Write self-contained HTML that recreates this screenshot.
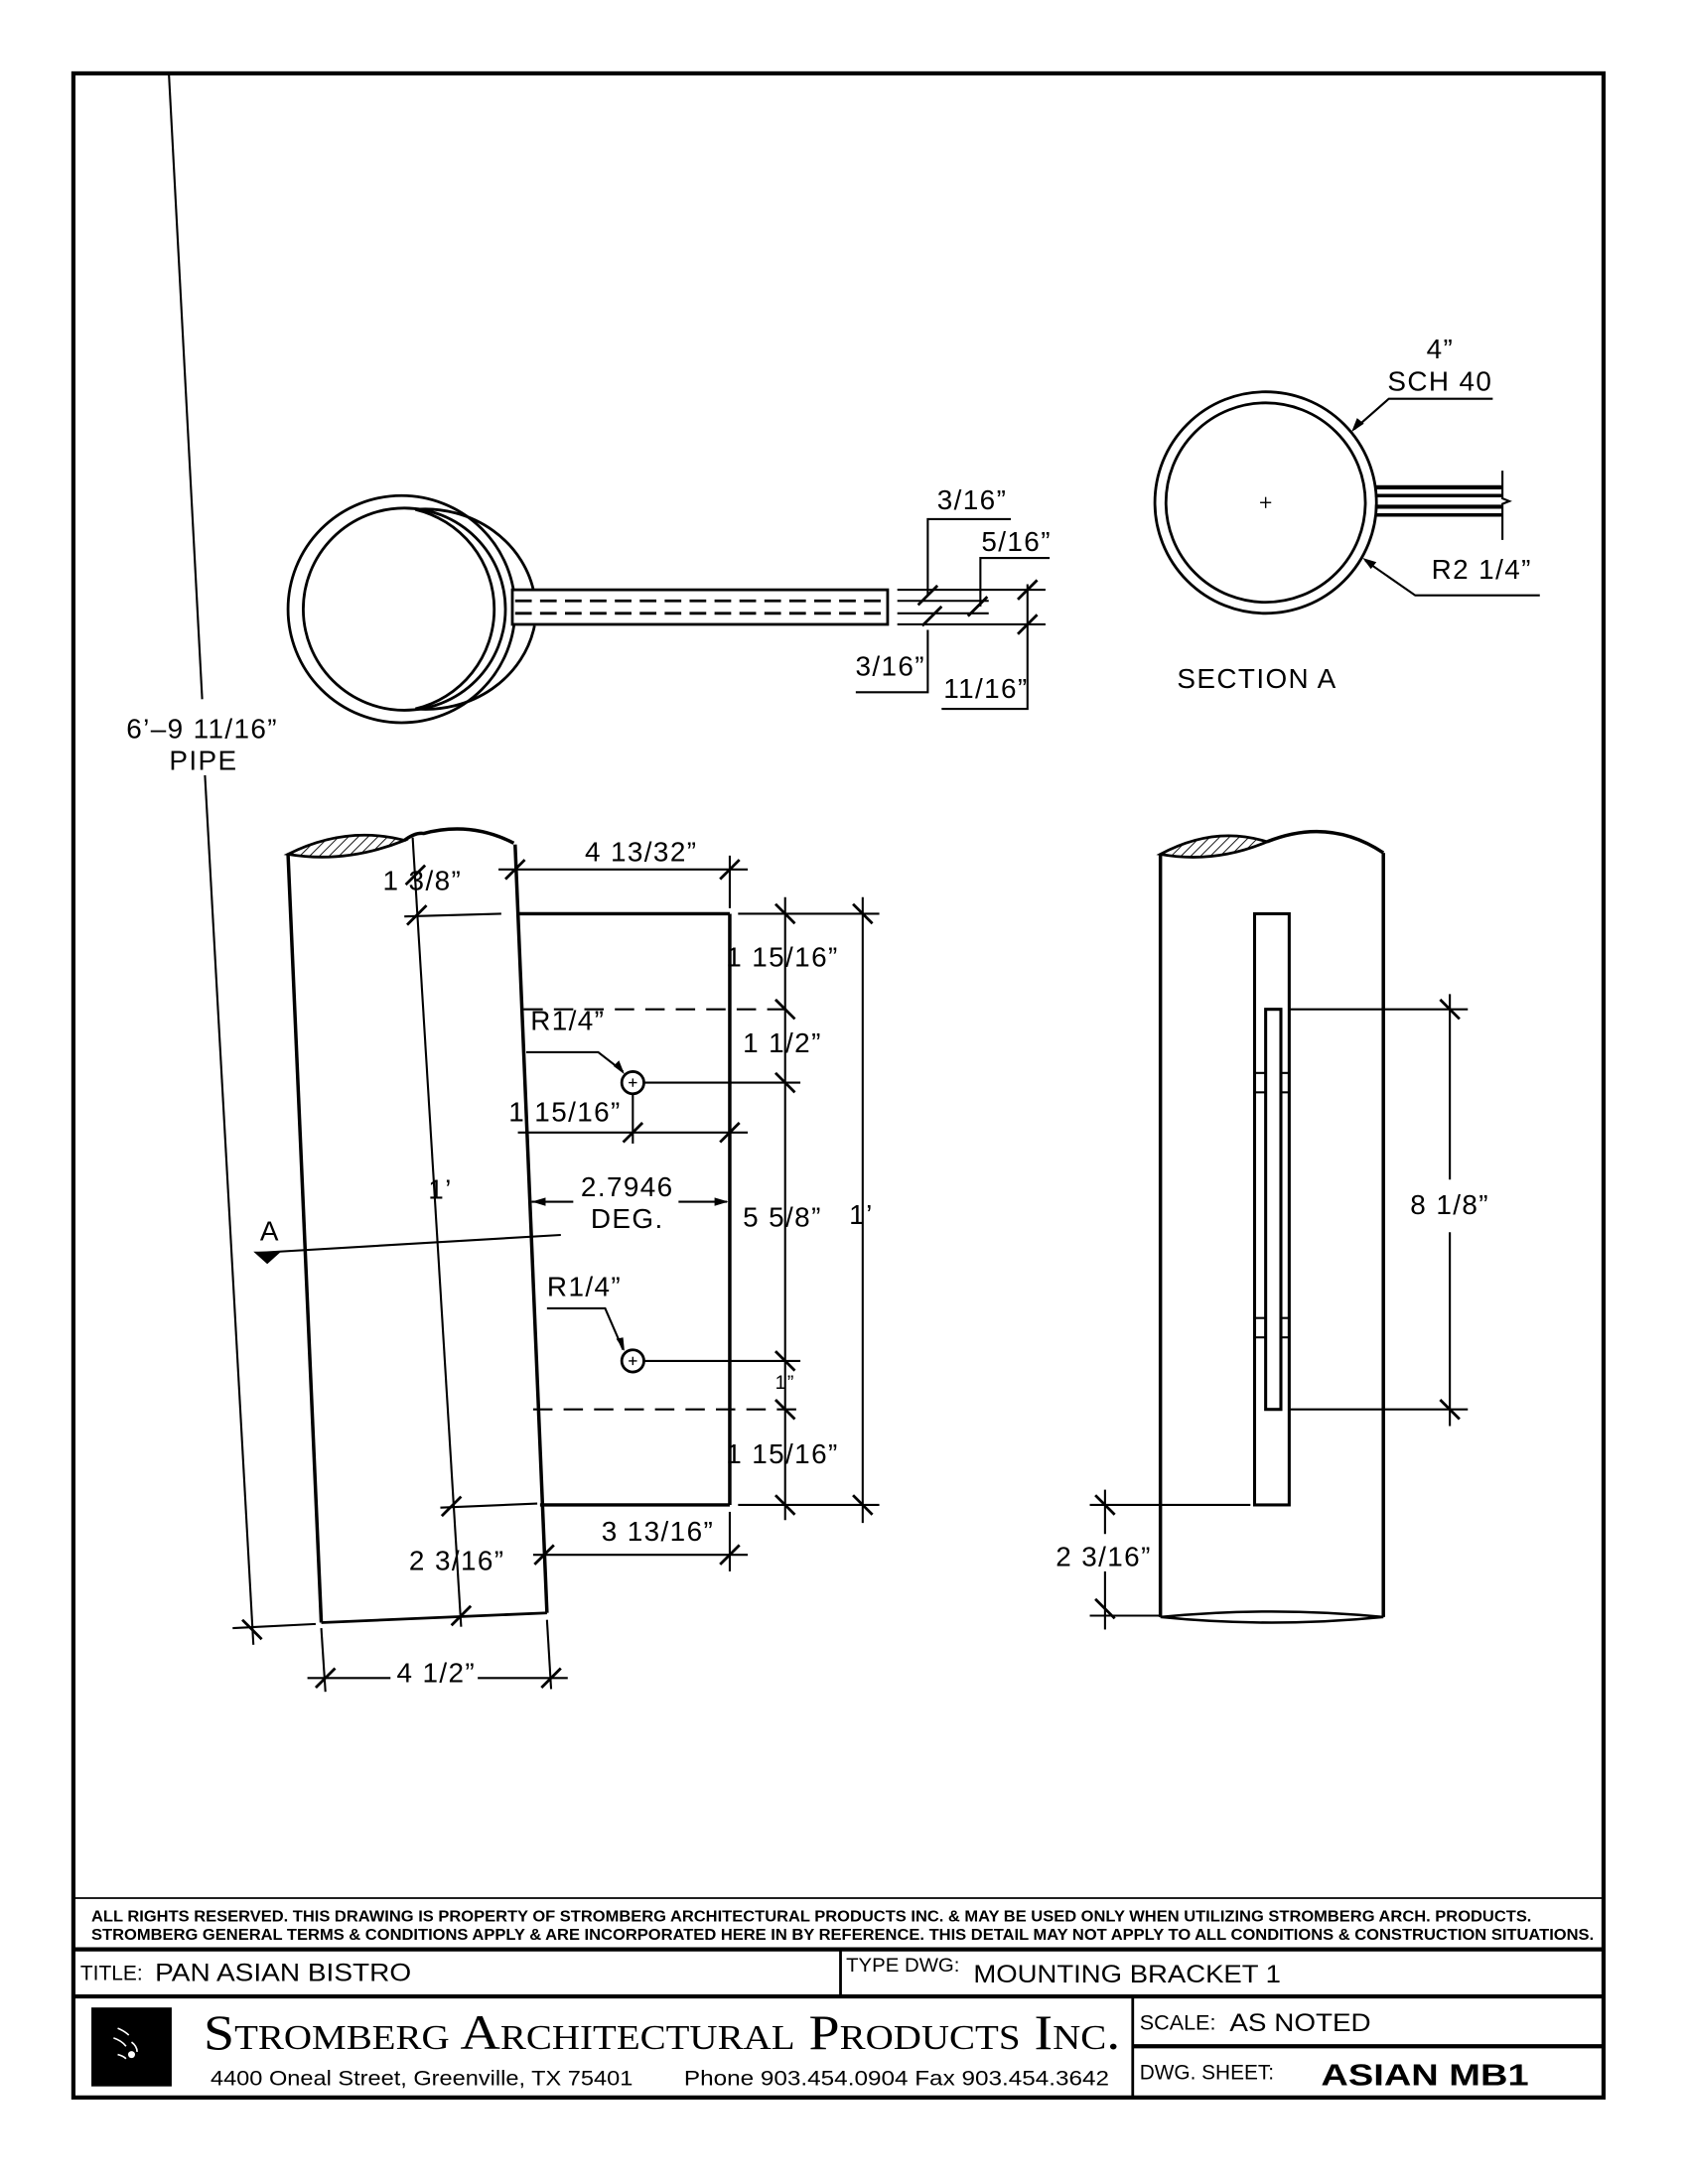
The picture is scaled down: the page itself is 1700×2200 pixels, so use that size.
<!DOCTYPE html>
<html><head><meta charset="utf-8"><style>
html,body{margin:0;padding:0;background:#fff}
svg{display:block}
.d{font-family:"Liberation Sans",sans-serif;font-size:20px;fill:#000;text-anchor:middle;letter-spacing:1px}
</style></head><body>
<svg width="1700" height="2200" viewBox="0 0 1219 1577.5" preserveAspectRatio="none" xmlns="http://www.w3.org/2000/svg">
<defs>
<pattern id="h" width="5" height="5" patternUnits="userSpaceOnUse" patternTransform="rotate(45)"><line x1="0" y1="0" x2="0" y2="5" stroke="#000" stroke-width="1.3"/></pattern>
<symbol id="t" overflow="visible"><line x1="-7" y1="7" x2="7" y2="-7" stroke="#000" stroke-width="2"/></symbol>
<symbol id="u" overflow="visible"><line x1="-7" y1="-7" x2="7" y2="7" stroke="#000" stroke-width="2"/></symbol>
</defs>
<rect x="0" y="0" width="1219" height="1578" fill="#fff"/>
<rect x="53" y="53" width="1105" height="1462" fill="none" stroke="#000" stroke-width="3"/>

<g stroke="#000" fill="none" stroke-width="1.5">
<line x1="122" y1="54" x2="146" y2="505"/>
<line x1="148" y1="560" x2="183" y2="1188"/>
<line x1="168" y1="1176" x2="228" y2="1173"/>
</g>
<use href="#u" x="182" y="1177"/>
<text class="d" x="146" y="533">6’–9 11/16”</text>
<text class="d" x="147" y="556">PIPE</text>

<g stroke="#000" fill="none" stroke-width="2">
<circle cx="290" cy="440" r="82"/>
<circle cx="292" cy="440" r="73"/>
<path d="M300 368 A74 74 0 0 1 300 512"/>
<path d="M300 368 A80 74 0 0 1 386 430 M386 452 A80 74 0 0 1 300 512"/>
<rect x="370" y="426" width="271" height="25" fill="#fff"/>
<line x1="372" y1="434" x2="640" y2="434" stroke-dasharray="12 6"/>
<line x1="372" y1="443" x2="640" y2="443" stroke-dasharray="12 6"/>
</g>
<g stroke="#000" stroke-width="1.5" fill="none">
<line x1="648" y1="426" x2="755" y2="426"/>
<line x1="648" y1="434" x2="714" y2="434"/>
<line x1="648" y1="443" x2="714" y2="443"/>
<line x1="648" y1="451" x2="755" y2="451"/>
<polyline points="670,430 670,375 730,375"/>
<polyline points="708,438 708,403 758,403"/>
<polyline points="618,500 670,500 670,455"/>
<polyline points="680,512 742,512 742,422"/>
</g>
<use href="#t" x="670" y="430"/><use href="#t" x="673" y="445"/>
<use href="#t" x="706" y="438"/><use href="#t" x="742" y="426"/><use href="#t" x="742" y="451"/>
<text class="d" x="702" y="368">3/16”</text>
<text class="d" x="734" y="398">5/16”</text>
<text class="d" x="643" y="488">3/16”</text>
<text class="d" x="712" y="504">11/16”</text>

<g stroke="#000" fill="none" stroke-width="2">
<circle cx="914" cy="363" r="80"/>
<circle cx="914" cy="363" r="72"/>
<line x1="993" y1="352" x2="1085" y2="352" stroke-width="3"/>
<line x1="993" y1="358" x2="1085" y2="358" stroke-width="2.5"/>
<line x1="993" y1="366" x2="1085" y2="366" stroke-width="3"/>
<line x1="993" y1="372" x2="1085" y2="372" stroke-width="2.5"/>
<polyline points="1085,340 1085,360 1090,362 1085,364 1085,390" stroke-width="1.5"/>
<line x1="910" y1="363" x2="918" y2="363" stroke-width="1"/><line x1="914" y1="359" x2="914" y2="367" stroke-width="1"/>
<polyline points="1078,288 1003,288 978,310" stroke-width="1.5"/>
<polyline points="1112,430 1022,430 986,405" stroke-width="1.5"/>
</g>
<path d="M976 312 L980 302 L985 306 Z" fill="#000"/>
<path d="M984 403 L994 406 L990 411 Z" fill="#000"/>
<text class="d" x="1040" y="259">4”</text>
<text class="d" x="1040" y="282">SCH 40</text>
<text class="d" x="1070" y="418">R2 1/4”</text>
<text class="d" x="850" y="497" style="text-anchor:start">SECTION   A</text>

<path d="M208 617 Q250 596 292 607 Q250 624 208 617 Z" fill="url(#h)" stroke="#000" stroke-width="2"/>
<g stroke="#000" fill="none" stroke-width="2.5">
<path d="M292 607 Q300 601 306 602 Q340 593 371 609"/>
<line x1="208" y1="617" x2="232" y2="1172"/>
<line x1="372" y1="610" x2="395" y2="1165"/>
<line x1="232" y1="1172" x2="395" y2="1165" stroke-width="2"/>
<line x1="375" y1="660" x2="527" y2="660"/>
<line x1="390" y1="1087" x2="527" y2="1087"/>
<line x1="527" y1="660" x2="527" y2="1087"/>
<circle cx="457" cy="782" r="8" stroke-width="2"/>
<circle cx="457" cy="983" r="8" stroke-width="2"/>
</g>
<g stroke="#000" fill="none" stroke-width="1">
<line x1="454" y1="782" x2="460" y2="782"/><line x1="457" y1="779" x2="457" y2="785"/>
<line x1="454" y1="983" x2="460" y2="983"/><line x1="457" y1="980" x2="457" y2="986"/>
</g>
<g stroke="#000" fill="none" stroke-width="1.5">
<line x1="298" y1="605" x2="333" y2="1175"/>
<line x1="292" y1="662" x2="362" y2="660"/>
<line x1="318" y1="1089" x2="388" y2="1086"/>
<line x1="378" y1="729" x2="575" y2="729" stroke-dasharray="14 8"/>
<line x1="385" y1="1018" x2="575" y2="1018" stroke-dasharray="14 8"/>
<line x1="360" y1="628" x2="540" y2="628"/>
<line x1="527" y1="618" x2="527" y2="656"/>
<line x1="533" y1="660" x2="635" y2="660"/>
<line x1="533" y1="1087" x2="635" y2="1087"/>
<line x1="465" y1="782" x2="578" y2="782"/>
<line x1="465" y1="983" x2="578" y2="983"/>
<line x1="567" y1="648" x2="567" y2="1098"/>
<line x1="623" y1="648" x2="623" y2="1100"/>
<line x1="374" y1="818" x2="540" y2="818"/>
<line x1="457" y1="790" x2="457" y2="826"/>
<polyline points="380,760 432,760 450,774"/>
<polyline points="395,945 437,945 450,975"/>
<line x1="384" y1="868" x2="414" y2="868"/>
<line x1="490" y1="868" x2="525" y2="868"/>
<line x1="185" y1="905" x2="405" y2="892"/>
<line x1="385" y1="1123" x2="540" y2="1123"/>
<line x1="527" y1="1092" x2="527" y2="1135"/>
<line x1="222" y1="1212" x2="282" y2="1212"/>
<line x1="345" y1="1212" x2="410" y2="1212"/>
<line x1="232" y1="1176" x2="235" y2="1222"/>
<line x1="395" y1="1170" x2="398" y2="1220"/>
</g>
<path d="M451 776 L443 770 L447 766 Z" fill="#000"/>
<path d="M451 976 L445 967 L450 966 Z" fill="#000"/>
<path d="M384 868 L394 865 L394 871 Z" fill="#000"/>
<path d="M526 868 L516 865 L516 871 Z" fill="#000"/>
<path d="M183 904 L203 904 L193 913 Z" fill="#000"/>
<use href="#t" x="300" y="632"/><use href="#t" x="301" y="661"/>
<use href="#t" x="326" y="1088"/><use href="#t" x="333" y="1167"/>
<use href="#t" x="372" y="628"/><use href="#t" x="527" y="628"/>
<use href="#u" x="567" y="660"/><use href="#u" x="567" y="729"/><use href="#u" x="567" y="782"/>
<use href="#u" x="567" y="983"/><use href="#u" x="567" y="1018"/><use href="#u" x="567" y="1087"/>
<use href="#u" x="623" y="660"/><use href="#u" x="623" y="1087"/>
<use href="#t" x="457" y="818"/><use href="#t" x="527" y="818"/>
<use href="#t" x="393" y="1123"/><use href="#t" x="527" y="1123"/>
<use href="#t" x="235" y="1212"/><use href="#t" x="398" y="1212"/>
<text class="d" x="305" y="643">1 3/8”</text>
<text class="d" x="318" y="866">1’</text>
<text class="d" x="330" y="1134">2 3/16”</text>
<text class="d" x="463" y="622">4 13/32”</text>
<text class="d" x="565" y="698">1 15/16”</text>
<text class="d" x="565" y="760">1 1/2”</text>
<text class="d" x="565" y="886">5 5/8”</text>
<text class="d" x="622" y="884">1’</text>
<text class="d" x="567" y="1003" style="font-size:14px">1”</text>
<text class="d" x="565" y="1057">1 15/16”</text>
<text class="d" x="408" y="810">1 15/16”</text>
<text class="d" x="410" y="744">R1/4”</text>
<text class="d" x="422" y="936">R1/4”</text>
<text class="d" x="453" y="864">2.7946</text>
<text class="d" x="453" y="887">DEG.</text>
<text class="d" x="195" y="896">A</text>
<text class="d" x="475" y="1113">3 13/16”</text>
<text class="d" x="315" y="1215">4 1/2”</text>

<path d="M838 617 Q877 596 915 608 Q877 624 838 617 Z" fill="url(#h)" stroke="#000" stroke-width="2"/>
<g stroke="#000" fill="none" stroke-width="2.5">
<path d="M915 608 Q960 590 999 616"/>
<line x1="838" y1="617" x2="838" y2="1168"/>
<line x1="999" y1="616" x2="999" y2="1168"/>
<path d="M838 1168 Q918 1160 999 1168 Q918 1176 838 1168" stroke-width="1.8"/>
<rect x="906" y="660" width="25" height="427" stroke-width="2.2"/>
<rect x="914" y="729" width="11" height="289" stroke-width="2.2"/>
</g>
<g stroke="#000" fill="none" stroke-width="1.5">
<line x1="906" y1="775" x2="914" y2="775"/><line x1="906" y1="789" x2="914" y2="789"/>
<line x1="925" y1="775" x2="931" y2="775"/><line x1="925" y1="789" x2="931" y2="789"/>
<line x1="906" y1="952" x2="914" y2="952"/><line x1="906" y1="966" x2="914" y2="966"/>
<line x1="925" y1="952" x2="931" y2="952"/><line x1="925" y1="966" x2="931" y2="966"/>
<line x1="931" y1="729" x2="1060" y2="729"/>
<line x1="931" y1="1018" x2="1060" y2="1018"/>
<line x1="1047" y1="718" x2="1047" y2="852"/>
<line x1="1047" y1="890" x2="1047" y2="1030"/>
<line x1="787" y1="1087" x2="903" y2="1087"/>
<line x1="787" y1="1167" x2="838" y2="1167"/>
<line x1="798" y1="1076" x2="798" y2="1108"/>
<line x1="798" y1="1135" x2="798" y2="1177"/>
</g>
<use href="#u" x="1047" y="729"/><use href="#u" x="1047" y="1018"/>
<use href="#u" x="798" y="1087"/><use href="#u" x="798" y="1162"/>
<text class="d" x="1047" y="877">8 1/8”</text>
<text class="d" x="797" y="1131">2 3/16”</text>

<g stroke="#000" fill="none">
<line x1="53" y1="1371" x2="1158" y2="1371" stroke-width="1.2"/>
<line x1="53" y1="1408" x2="1158" y2="1408" stroke-width="3"/>
<line x1="53" y1="1442" x2="1158" y2="1442" stroke-width="3"/>
<line x1="607" y1="1408" x2="607" y2="1442" stroke-width="2"/>
<line x1="818" y1="1442" x2="818" y2="1515" stroke-width="2"/>
<line x1="818" y1="1478" x2="1158" y2="1478" stroke-width="3"/>
</g>
<g font-family="Liberation Sans, sans-serif" fill="#000">
<text x="66" y="1388" font-size="11" font-weight="bold" textLength="1040" lengthAdjust="spacingAndGlyphs">ALL RIGHTS RESERVED. THIS DRAWING IS PROPERTY OF STROMBERG ARCHITECTURAL PRODUCTS INC. &amp; MAY BE USED ONLY WHEN UTILIZING STROMBERG ARCH. PRODUCTS.</text>
<text x="66" y="1401" font-size="11" font-weight="bold" textLength="1085" lengthAdjust="spacingAndGlyphs">STROMBERG GENERAL TERMS &amp; CONDITIONS APPLY &amp; ARE INCORPORATED HERE IN BY REFERENCE. THIS DETAIL MAY NOT APPLY TO ALL CONDITIONS &amp; CONSTRUCTION SITUATIONS.</text>
<text x="58" y="1430" font-size="15" textLength="45" lengthAdjust="spacingAndGlyphs">TITLE:</text>
<text x="112" y="1431" font-size="18" textLength="185" lengthAdjust="spacingAndGlyphs">PAN ASIAN BISTRO</text>
<text x="611" y="1424" font-size="14" textLength="82" lengthAdjust="spacingAndGlyphs">TYPE DWG:</text>
<text x="703" y="1432" font-size="18" textLength="222" lengthAdjust="spacingAndGlyphs">MOUNTING BRACKET 1</text>
<text x="823" y="1466" font-size="15" textLength="55" lengthAdjust="spacingAndGlyphs">SCALE:</text>
<text x="888" y="1467" font-size="18" textLength="102" lengthAdjust="spacingAndGlyphs">AS NOTED</text>
<text x="823" y="1502" font-size="15" textLength="97" lengthAdjust="spacingAndGlyphs">DWG. SHEET:</text>
<text x="954" y="1506" font-size="22" font-weight="bold" textLength="150" lengthAdjust="spacingAndGlyphs">ASIAN MB1</text>
<text x="152" y="1506" font-size="15" textLength="305" lengthAdjust="spacingAndGlyphs">4400 Oneal Street, Greenville, TX  75401</text>
<text x="494" y="1506" font-size="15" textLength="307" lengthAdjust="spacingAndGlyphs">Phone 903.454.0904   Fax 903.454.3642</text>
</g>
<text x="147" y="1480" font-family="Liberation Serif, serif" font-size="36" style="font-variant:small-caps" textLength="662" lengthAdjust="spacingAndGlyphs">Stromberg Architectural Products Inc.</text>
<rect x="66" y="1450" width="58" height="57" fill="#000"/>
<g stroke="#fff" stroke-width="1.2" fill="none">
<path d="M85 1465 q5 2 8 5"/><path d="M82 1472 q6 2 9 6"/><path d="M95 1475 q4 3 4 7"/><path d="M85 1484 q4 1 6 3"/>
</g>
<circle cx="95" cy="1484" r="2.5" fill="#fff"/>
</svg>
</body></html>
